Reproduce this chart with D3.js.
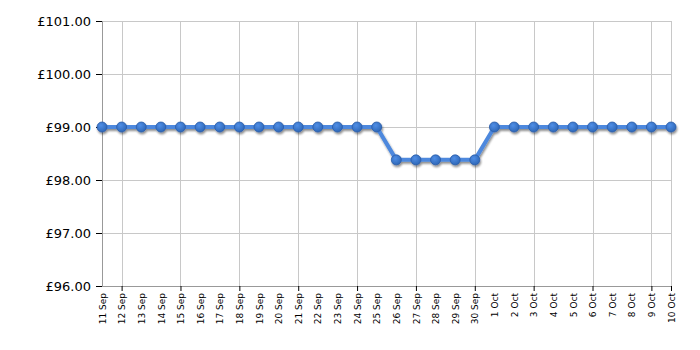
<!DOCTYPE html>
<html>
<head>
<meta charset="utf-8">
<script src="https://cdn.jsdelivr.net/npm/d3@7"></script>
<style>
  body { margin: 0; background: #fff; }
  svg { display: block; }
</style>
</head>
<body>
<script>
// Data
const dates = [
  "11 Sep", "12 Sep", "13 Sep", "14 Sep", "15 Sep", "16 Sep", "17 Sep", "18 Sep",
  "19 Sep", "20 Sep", "21 Sep", "22 Sep", "23 Sep", "24 Sep", "25 Sep", "26 Sep",
  "27 Sep", "28 Sep", "29 Sep", "30 Sep", "1 Oct", "2 Oct", "3 Oct", "4 Oct",
  "5 Oct", "6 Oct", "7 Oct", "8 Oct", "9 Oct", "10 Oct"
]
const prices = [
  99, 99, 99, 99, 99, 99, 99, 99, 99, 99, 99, 99, 99, 99, 99,
  98.38, 98.38, 98.38, 98.38, 98.38,
  99, 99, 99, 99, 99, 99, 99, 99, 99, 99
]
const yTicks = [96, 97, 98, 99, 100, 101]
// dates that get a grid line + tick mark
const majorDates = ["12 Sep", "15 Sep", "18 Sep", "21 Sep", "24 Sep", "27 Sep", "30 Sep", "3 Oct", "6 Oct", "9 Oct", "10 Oct"]

const width = 700
const height = 350
const margin = { top: 21, right: 29, bottom: 64, left: 102 }
const plotWidth = width - margin.left - margin.right
const plotHeight = height - margin.top - margin.bottom

const svg = d3.select("body")
  .append("svg")
  .attr("width", width)
  .attr("height", height)

const defs = svg.append("defs")
const shadow = defs.append("filter").attr("id", "shadow")
  .attr("x", "-20%").attr("y", "-20%").attr("width", "140%").attr("height", "140%")
shadow.append("feGaussianBlur").attr("in", "SourceAlpha").attr("stdDeviation", 1)
shadow.append("feOffset").attr("dx", 1).attr("dy", 2).attr("result", "off")
shadow.append("feComponentTransfer").append("feFuncA").attr("type", "linear").attr("slope", 0.45)
const merge = shadow.append("feMerge")
merge.append("feMergeNode")
merge.append("feMergeNode").attr("in", "SourceGraphic")

const dotGrad = defs.append("radialGradient").attr("id", "dotFill")
  .attr("cx", "40%").attr("cy", "35%").attr("r", "65%")
dotGrad.append("stop").attr("offset", "0%").attr("stop-color", "#4f8ee6")
dotGrad.append("stop").attr("offset", "100%").attr("stop-color", "#2f68b8")

const g = svg.append("g").attr("transform", `translate(${margin.left},${margin.top})`)

const x = d3.scalePoint()
  .domain(dates)
  .range([0, plotWidth])

const y = d3.scaleLinear()
  .domain([96, 101])
  .range([plotHeight, 0])

// horizontal grid
g.append("g")
  .selectAll("line")
  .data(yTicks)
  .join("line")
  .attr("x1", 0)
  .attr("x2", plotWidth)
  .attr("y1", d => Math.round(y(d)) + 0.5)
  .attr("y2", d => Math.round(y(d)) + 0.5)
  .attr("stroke", "#c8c8c8")

// vertical grid
g.append("g")
  .selectAll("line")
  .data(majorDates)
  .join("line")
  .attr("x1", d => Math.round(x(d)) + 0.5)
  .attr("x2", d => Math.round(x(d)) + 0.5)
  .attr("y1", 0)
  .attr("y2", plotHeight)
  .attr("stroke", "#c8c8c8")

// Y axis
const axisY = g.append("g")
  .call(d3.axisLeft(y).tickValues(yTicks).tickSize(6).tickFormat(d => "£" + d3.format(".2f")(d)))
axisY.select(".domain").attr("stroke", "#999")
axisY.selectAll(".tick line").attr("stroke", "#000")
axisY.selectAll("text")
  .attr("font-family", "Verdana, 'DejaVu Sans', sans-serif")
  .attr("font-size", 13)
  .attr("fill", "#000")
  .attr("x", -11)

// X axis
const axisX = g.append("g")
  .attr("transform", `translate(0,${plotHeight})`)
  .call(d3.axisBottom(x).tickSize(0).tickPadding(0))
axisX.select(".domain").attr("stroke", "#999")
axisX.selectAll(".tick")
  .filter(d => majorDates.includes(d))
  .append("line")
  .attr("y2", 5)
  .attr("stroke", "#000")
axisX.selectAll("text")
  .attr("font-family", "Verdana, 'DejaVu Sans', sans-serif")
  .attr("font-size", 9)
  .attr("fill", "#000")
  .attr("text-anchor", "end")
  .attr("dy", "0.35em")
  .attr("transform", "translate(0,7) rotate(-90)")
  .attr("x", 0)
  .attr("y", 0)

// Line and markers
const line = d3.line()
  .x((d, i) => x(dates[i]))
  .y(d => y(d))

const series = g.append("g").attr("filter", "url(#shadow)")

series.append("path")
  .datum(prices)
  .attr("d", line)
  .attr("fill", "none")
  .attr("stroke", "#4e88dd")
  .attr("stroke-width", 4)
  .attr("stroke-linejoin", "round")

series.append("g")
  .selectAll("circle")
  .data(prices)
  .join("circle")
  .attr("cx", (d, i) => x(dates[i]))
  .attr("cy", d => y(d))
  .attr("r", 5)
  .attr("fill", "url(#dotFill)")
  .attr("stroke", "#2a5ca8")
  .attr("stroke-width", 0.8)
</script>
</body>
</html>
